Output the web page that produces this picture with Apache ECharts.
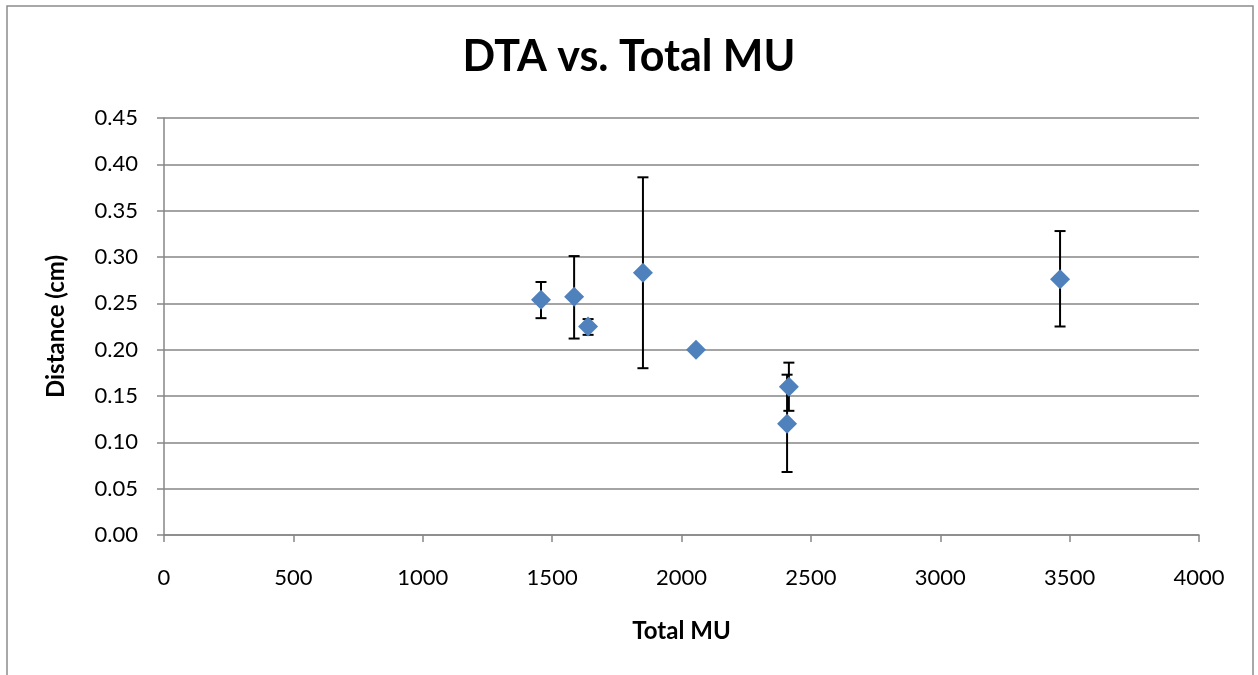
<!DOCTYPE html>
<html lang="en">
<head>
    <meta charset="UTF-8">
    <title>DTA vs. Total MU</title>
    <style>
        html, body { margin: 0; padding: 0; background: #fff; }
        #chart { width: 1258px; height: 675px; }
    </style>
</head>
<body>
    <div id="chart"></div>
    <script src="https://cdn.jsdelivr.net/npm/echarts@6/dist/echarts.min.js"></script>
    <script>
        // values
        const totalMU = [1457, 1585, 1639, 1851, 2056, 2408, 2415, 3463]
        const dta = [0.254, 0.257, 0.225, 0.283, 0.200, 0.120, 0.160, 0.276]
        const errHigh = [0.273, 0.301, 0.233, 0.386, 0.203, 0.173, 0.186, 0.328]
        const errLow = [0.234, 0.212, 0.216, 0.180, 0.197, 0.068, 0.134, 0.225]

        const font = 'Lato, "Open Sans", sans-serif'
        const chart = echarts.init(document.getElementById('chart'))

        const points = totalMU.map((x, i) => [x, dta[i]])
        const bars = totalMU.map((x, i) => [x, errLow[i], errHigh[i]])

        chart.setOption({
            animation: false,
            graphic: [{
                type: 'rect',
                shape: { x: 7, y: 6, width: 1246, height: 700 },
                style: { fill: 'none', stroke: '#8c8c8c', lineWidth: 1.5 },
                silent: true
            }],
            title: {
                text: 'DTA vs. Total MU',
                left: 'center',
                top: 31,
                textStyle: { fontFamily: font, fontSize: 43, fontWeight: 'bold', color: '#000' }
            },
            grid: { left: 164, right: 59, top: 118, bottom: 140 },
            xAxis: {
                type: 'value',
                min: 0, max: 4000, interval: 500,
                name: 'Total MU',
                nameLocation: 'middle',
                nameGap: 84,
                nameTextStyle: { fontFamily: font, fontSize: 24, fontWeight: 'bold', color: '#000' },
                axisLine: { lineStyle: { color: '#868686', width: 1.5 } },
                axisTick: { show: true, length: 7, lineStyle: { color: '#868686', width: 1.5 } },
                axisLabel: { fontFamily: font, fontSize: 22, color: '#000', margin: 32, formatter: v => String(v) },
                splitLine: { show: false }
            },
            yAxis: {
                type: 'value',
                min: 0, max: 0.45, interval: 0.05,
                name: 'Distance (cm)',
                nameLocation: 'middle',
                nameGap: 96,
                nameRotate: 90,
                nameTextStyle: { fontFamily: font, fontSize: 24, fontWeight: 'bold', color: '#000' },
                axisLine: { show: true, lineStyle: { color: '#868686', width: 1.5 } },
                axisTick: { show: true, length: 7, lineStyle: { color: '#868686', width: 1.5 } },
                axisLabel: { fontFamily: font, fontSize: 22, color: '#000', margin: 26, formatter: v => v.toFixed(2) },
                splitLine: { show: true, lineStyle: { color: '#868686', width: 1.5 } }
            },
            series: [
                {
                    type: 'custom',
                    data: bars,
                    z: 2,
                    renderItem: (params, api) => {
                        const lo = api.coord([api.value(0), api.value(1)])
                        const hi = api.coord([api.value(0), api.value(2)])
                        const cap = 5.5
                        const style = { stroke: '#000', lineWidth: 2 }
                        return {
                            type: 'group',
                            children: [
                                { type: 'line', shape: { x1: hi[0], y1: hi[1], x2: lo[0], y2: lo[1] }, style },
                                { type: 'line', shape: { x1: hi[0] - cap, y1: hi[1], x2: hi[0] + cap, y2: hi[1] }, style },
                                { type: 'line', shape: { x1: lo[0] - cap, y1: lo[1], x2: lo[0] + cap, y2: lo[1] }, style }
                            ]
                        }
                    }
                },
                {
                    type: 'scatter',
                    data: points,
                    z: 3,
                    symbol: 'diamond',
                    symbolSize: [20, 20],
                    itemStyle: { color: '#4F81BD', opacity: 1 }
                }
            ]
        })
    </script>
</body>
</html>
